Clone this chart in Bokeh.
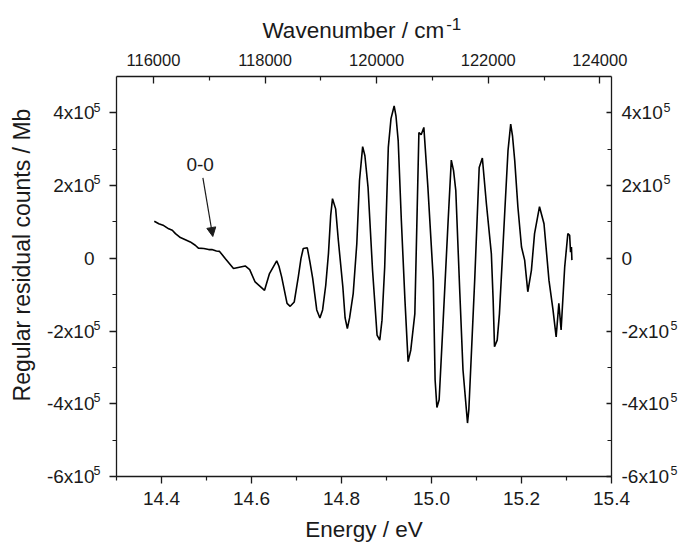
from bokeh.plotting import figure
from bokeh.models import (Range1d, LinearAxis, FixedTicker, Arrow, NormalHead,
                          Label, BasicTickFormatter, NumeralTickFormatter)
from bokeh.embed import file_html
from bokeh.resources import INLINE

# ---- data ----
energy_ev = [14.384, 14.394, 14.405, 14.416, 14.424, 14.431, 14.442, 14.453, 14.464, 14.475,
             14.482, 14.494, 14.505, 14.512, 14.522, 14.529, 14.542, 14.560, 14.586, 14.596,
             14.608, 14.629, 14.640, 14.656, 14.661, 14.667, 14.679, 14.686, 14.695, 14.704,
             14.710, 14.715, 14.724, 14.730, 14.736, 14.745, 14.752, 14.758, 14.765, 14.771,
             14.776, 14.780, 14.787, 14.793, 14.803, 14.808, 14.813, 14.818, 14.826, 14.834,
             14.840, 14.847, 14.852, 14.859, 14.869, 14.879, 14.885, 14.890, 14.896, 14.904,
             14.910, 14.917, 14.921, 14.926, 14.933, 14.941, 14.948, 14.954, 14.963, 14.972,
             14.977, 14.983, 14.992, 15.004, 15.008, 15.012, 15.017, 15.026, 15.037, 15.044,
             15.049, 15.054, 15.063, 15.070, 15.080, 15.083, 15.086, 15.096, 15.106, 15.113,
             15.122, 15.133, 15.137, 15.140, 15.146, 15.151, 15.163, 15.170, 15.176, 15.180,
             15.185, 15.192, 15.200, 15.207, 15.214, 15.222, 15.229, 15.240, 15.250, 15.261,
             15.270, 15.277, 15.283, 15.288, 15.296, 15.303, 15.307, 15.309, 15.311, 15.312]
counts = [1.02e5, 0.95e5, 0.90e5, 0.81e5, 0.77e5, 0.68e5, 0.57e5, 0.51e5, 0.45e5, 0.36e5,
          0.28e5, 0.27e5, 0.24e5, 0.24e5, 0.20e5, 0.19e5, -0.01e5, -0.28e5, -0.21e5, -0.31e5,
          -0.65e5, -0.88e5, -0.42e5, -0.07e5, -0.22e5, -0.51e5, -1.24e5, -1.32e5, -1.20e5, -0.51e5,
          0.00e5, 0.27e5, 0.29e5, -0.11e5, -0.55e5, -1.42e5, -1.64e5, -1.42e5, -0.74e5, 0.13e5,
          1.18e5, 1.64e5, 1.36e5, 0.49e5, -0.79e5, -1.64e5, -1.93e5, -1.64e5, -0.97e5, 0.40e5,
          2.14e5, 3.07e5, 2.82e5, 1.95e5, -0.33e5, -2.11e5, -2.25e5, -1.70e5, -0.24e5, 3.05e5,
          3.84e5, 4.19e5, 3.92e5, 3.23e5, 1.04e5, -1.15e5, -2.84e5, -2.52e5, -1.52e5, 3.46e5,
          3.40e5, 3.60e5, 1.95e5, -0.60e5, -3.34e5, -4.10e5, -3.89e5, -1.70e5, 1.04e5, 2.70e5,
          2.41e5, 1.86e5, -0.97e5, -3.07e5, -4.53e5, -4.16e5, -3.34e5, -0.60e5, 2.50e5, 2.76e5,
          1.50e5, 0.13e5, -1.15e5, -2.43e5, -2.25e5, -1.52e5, 1.32e5, 2.96e5, 3.69e5, 3.37e5,
          2.68e5, 1.41e5, 0.31e5, -0.05e5, -0.92e5, -0.33e5, 0.68e5, 1.42e5, 0.95e5, -0.60e5,
          -1.42e5, -2.16e5, -1.24e5, -1.97e5, -0.24e5, 0.68e5, 0.63e5, 0.17e5, 0.31e5, -0.05e5]

y_ticks = [-600000, -400000, -200000, 0, 200000, 400000]
y_tick_base = ["-6x10", "-4x10", "-2x10", "0", "2x10", "4x10"]
y_tick_exp = ["5", "5", "5", "", "5", "5"]
y_minor = [-500000, -300000, -100000, 100000, 300000]
x_ticks = [14.4, 14.6, 14.8, 15.0, 15.2, 15.4]
x_minor = [14.3, 14.5, 14.7, 14.9, 15.1, 15.3]
wn_ticks = [116000, 118000, 120000, 122000, 124000]
wn_minor = [115000, 117000, 119000, 121000, 123000]
EV_TO_CM = 8065.54
X_MIN, X_MAX = 14.3, 15.4
Y_MIN, Y_MAX = -6e5, 5e5

x_title = "Energy / eV"
y_title = "Regular residual counts / Mb"
top_title_base = "Wavenumber / cm"
top_title_exp = "-1"

ann_text = "0-0"
ann_text_pos = (14.486, 2.58e5)
ann_arrow = (14.492, 2.21e5, 14.514, 0.60e5)

# ---- layout / style constants ----
FONT = "Liberation Sans"
TXT = "#1a1a1a"
TICK_PX = 19
SUP_PX = 12.5
TITLE_PX = 22.5
SUP_RAISE = 16000            # exponent raised by ~6 px (in y data units)
TOP_BASE_AT = 119582         # wavenumber under the centre of the top title
TOP_EXP_AT = 121381          # wavenumber under the centre of its exponent
LEFT_TITLE_AT = 9000         # y value placing the left title like the original

p = figure(width=681, height=546, x_range=Range1d(X_MIN, X_MAX), y_range=Range1d(Y_MIN, Y_MAX),
           output_backend="svg", toolbar_location=None,
           min_border_left=116, min_border_right=70, min_border_top=76, min_border_bottom=70)
p.grid.visible = False
p.outline_line_color = None
p.background_fill_color = "white"
p.border_fill_color = "white"

p.extra_x_ranges = {"wn": Range1d(X_MIN * EV_TO_CM, X_MAX * EV_TO_CM)}
p.extra_y_ranges = {"sup": Range1d(Y_MIN - SUP_RAISE, Y_MAX - SUP_RAISE)}


def style(ax, tick_in, tick_out, standoff, size, show_line=True):
    ax.axis_line_color = TXT if show_line else None
    ax.axis_line_width = 1.3
    ax.major_tick_line_color = TXT if show_line else None
    ax.minor_tick_line_color = TXT if show_line else None
    ax.major_tick_line_width = 1.3
    ax.minor_tick_line_width = 1.2
    ax.major_tick_in = tick_in
    ax.major_tick_out = tick_out
    ax.minor_tick_in = 4 if tick_in else 0
    ax.minor_tick_out = 4 if tick_out else 0
    ax.major_label_text_font = FONT
    ax.major_label_text_font_size = size
    ax.major_label_text_color = TXT
    ax.major_label_standoff = standoff
    ax.axis_label_text_font = FONT
    ax.axis_label_text_font_size = "%spx" % TITLE_PX
    ax.axis_label_text_font_style = "normal"
    ax.axis_label_text_color = TXT


def text_axis(ticks, labels, size, standoff, **kw):
    ax = LinearAxis(ticker=FixedTicker(ticks=ticks, minor_ticks=[]), **kw)
    ax.major_label_overrides = {t: l for t, l in zip(ticks, labels)}
    style(ax, 0, 0, standoff, size, show_line=False)
    return ax


def px(v):
    return "%spx" % v


pos = [(t, e) for t, e in zip(y_ticks, y_tick_exp) if e and t > 0]
neg = [(t, e) for t, e in zip(y_ticks, y_tick_exp) if e and t < 0]
exp_all = pos + neg

# bottom axis
xb = p.xaxis[0]
xb.ticker = FixedTicker(ticks=x_ticks, minor_ticks=x_minor)
xb.formatter = NumeralTickFormatter(format="0.0")
xb.axis_label = x_title
style(xb, 0, 7, 8, px(TICK_PX))
xb.axis_label_standoff = 9

# left side: ticks | raised exponents | bases | title
yl = p.yaxis[0]
yl.ticker = FixedTicker(ticks=y_ticks, minor_ticks=y_minor)
yl.major_label_overrides = {t: "" for t in y_ticks}
style(yl, 0, 7, 0, px(TICK_PX))
p.add_layout(text_axis([t for t, _ in exp_all], [e for _, e in exp_all], px(SUP_PX), 9,
                       y_range_name="sup"), "left")
p.add_layout(text_axis(y_ticks, y_tick_base, px(TICK_PX), -4), "left")
yt = text_axis([LEFT_TITLE_AT], [y_title], px(23), 8)
yt.major_label_orientation = "vertical"
p.add_layout(yt, "left")

# right side: ticks + bases | exponents of positive labels | exponents of negative labels
yr = LinearAxis(ticker=FixedTicker(ticks=y_ticks, minor_ticks=y_minor))
yr.major_label_overrides = {t: b for t, b in zip(y_ticks, y_tick_base)}
style(yr, 5, 0, 10, px(TICK_PX))
p.add_layout(yr, "right")
p.add_layout(text_axis([t for t, _ in pos], [e for _, e in pos], px(SUP_PX), -9,
                       y_range_name="sup"), "right")
p.add_layout(text_axis([t for t, _ in neg], [e for _, e in neg], px(SUP_PX), -3,
                       y_range_name="sup"), "right")

# top axis (wavenumber) + its title with raised exponent
xt = LinearAxis(x_range_name="wn", ticker=FixedTicker(ticks=wn_ticks, minor_ticks=wn_minor),
                formatter=BasicTickFormatter(use_scientific=False))
style(xt, 7, 0, 11, "16.5px")
p.add_layout(xt, "above")
p.add_layout(text_axis([TOP_BASE_AT], [top_title_base], px(TITLE_PX), 8, x_range_name="wn"), "above")
p.add_layout(text_axis([TOP_EXP_AT], [top_title_exp], px(17), -15, x_range_name="wn"), "above")

p.line(energy_ev, counts, line_color="black", line_width=1.6)

p.add_layout(Label(x=ann_text_pos[0], y=ann_text_pos[1], text=ann_text, text_align="center",
                   text_baseline="middle", text_font=FONT, text_font_size="19px",
                   text_color=TXT))
p.add_layout(Arrow(end=NormalHead(size=9, fill_color=TXT, line_color=TXT, line_width=1),
                   x_start=ann_arrow[0], y_start=ann_arrow[1], x_end=ann_arrow[2], y_end=ann_arrow[3],
                   line_color=TXT, line_width=1.2))

open("out.html", "w").write(file_html(p, INLINE))
